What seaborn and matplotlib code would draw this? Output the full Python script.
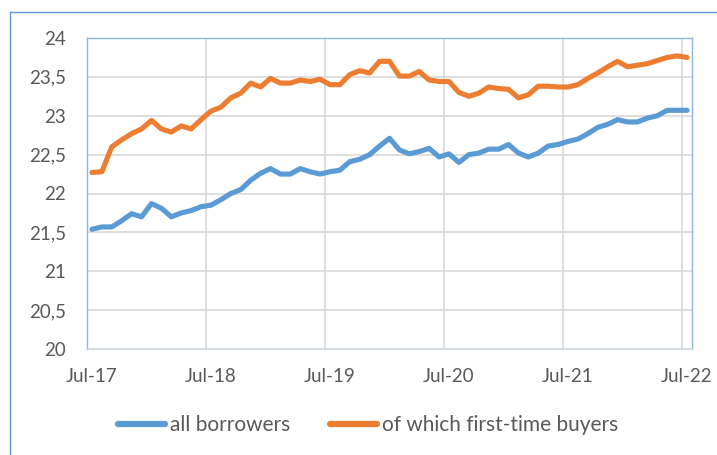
import numpy as np
import pandas as pd
import matplotlib
matplotlib.use("Agg")
import matplotlib.pyplot as plt
from matplotlib.ticker import FuncFormatter, FixedLocator
from matplotlib.lines import Line2D
import seaborn as sns

# monthly values, Jul-17 .. Jul-22
all_borrowers = [21.54, 21.57, 21.57, 21.65, 21.74, 21.70, 21.87, 21.81, 21.70, 21.75,
                 21.78, 21.83, 21.85, 21.92, 22.00, 22.05, 22.17, 22.26, 22.32, 22.25,
                 22.25, 22.32, 22.28, 22.25, 22.28, 22.30, 22.41, 22.44, 22.50, 22.61,
                 22.71, 22.56, 22.51, 22.54, 22.58, 22.47, 22.51, 22.40, 22.50, 22.52,
                 22.57, 22.57, 22.63, 22.52, 22.47, 22.52, 22.61, 22.63, 22.67, 22.70,
                 22.77, 22.85, 22.89, 22.95, 22.92, 22.92, 22.97, 23.00, 23.07, 23.07,
                 23.07]
first_time = [22.27, 22.28, 22.60, 22.69, 22.77, 22.83, 22.94, 22.83, 22.79, 22.87,
              22.83, 22.95, 23.06, 23.11, 23.23, 23.29, 23.42, 23.37, 23.48, 23.42,
              23.42, 23.46, 23.44, 23.47, 23.40, 23.40, 23.53, 23.58, 23.55, 23.70,
              23.70, 23.51, 23.51, 23.57, 23.46, 23.44, 23.44, 23.30, 23.25, 23.29,
              23.37, 23.35, 23.34, 23.23, 23.27, 23.38, 23.38, 23.37, 23.37, 23.40,
              23.48, 23.55, 23.63, 23.70, 23.63, 23.65, 23.67, 23.71, 23.75, 23.77,
              23.75]
x_labels = ["Jul-17", "Jul-18", "Jul-19", "Jul-20", "Jul-21", "Jul-22"]
series_names = ["all borrowers", "of which first-time buyers"]
colors = ["#5B9BD5", "#ED7D31"]

months = np.arange(len(all_borrowers))
df = pd.DataFrame({
    "month": np.concatenate([months, months]),
    "value": all_borrowers + first_time,
    "series": [series_names[0]] * len(months) + [series_names[1]] * len(months),
})

sns.set_style("white")
plt.rcParams["font.family"] = ["Lato", "DejaVu Sans"]

fig = plt.figure(figsize=(7.17, 4.55), dpi=100)
ax = fig.add_axes([87 / 717, 1 - 349 / 455, (692 - 87) / 717, (349 - 38) / 455])

sns.lineplot(data=df, x="month", y="value", hue="series", palette=colors,
             linewidth=3.7, ax=ax, legend=False)
for ln in ax.lines:
    ln.set_solid_capstyle("round")
    ln.set_solid_joinstyle("round")

ax.set_xlim(-0.5, len(months) - 0.5)
ax.set_ylim(20, 24)
ax.set_yticks(np.arange(20, 24.01, 0.5))
ax.yaxis.set_major_formatter(FuncFormatter(lambda v, p: f"{v:g}".replace(".", ",")))
ax.set_xticks(np.arange(0, len(months), 12))
ax.set_xticklabels(x_labels)
ax.xaxis.set_minor_locator(FixedLocator(np.arange(11.5, len(months), 12)))
ax.set_xlabel("")
ax.set_ylabel("")

ax.grid(axis="y", color="#D9D9D9", linewidth=1.2)
ax.grid(axis="x", which="minor", color="#D9D9D9", linewidth=1.2)
ax.set_axisbelow(True)
ax.tick_params(axis="both", which="both", length=0, labelsize=13.5, colors="#595959")
ax.tick_params(axis="y", pad=15)
ax.tick_params(axis="x", pad=14)
for s in ["left", "top", "right"]:
    ax.spines[s].set_color("#8DB4E2")
    ax.spines[s].set_linewidth(1)
ax.spines["bottom"].set_color("#D0D7E0")
ax.spines["bottom"].set_linewidth(1.2)

handles = [Line2D([], [], color=c, linewidth=4.5, solid_capstyle="round") for c in colors]
fig.legend(handles, series_names, loc="center", bbox_to_anchor=(368 / 717, 1 - 425 / 455),
           ncol=2, frameon=False, fontsize=15, handlelength=2.25, handletextpad=0.25,
           columnspacing=1.9, labelcolor="#595959")

# outer chart frame (cropped at right and bottom)
fig.add_artist(Line2D([10 / 717, 10 / 717], [0, 1 - 12 / 455], transform=fig.transFigure,
                      color="#5B9BD5", linewidth=1))
fig.add_artist(Line2D([10 / 717, 1], [1 - 12 / 455, 1 - 12 / 455], transform=fig.transFigure,
                      color="#5B9BD5", linewidth=1))

fig.savefig("out.png", dpi=100)
